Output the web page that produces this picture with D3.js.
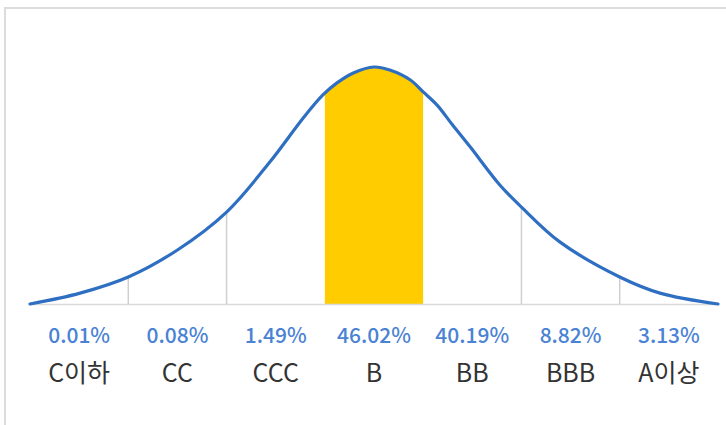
<!DOCTYPE html>
<html>
<head>
<meta charset="utf-8">
<script src="https://cdn.jsdelivr.net/npm/d3@7"></script>
<style>
  body { margin: 0; background: #fff; }
  svg { display: block; }
</style>
</head>
<body>
<div id="chart"></div>
<script>
// grades and their share
var grades = ["C이하", "CC", "CCC", "B", "BB", "BBB", "A이상"];
var shares = ["0.01%", "0.08%", "1.49%", "46.02%", "40.19%", "8.82%", "3.13%"];
var highlight = "B";

// curve outline (pos in grade units, height relative to peak)
var curvePos = [0, 0.51, 1.0, 1.5, 2.0, 2.44, 2.78, 2.98, 3.12, 3.29, 3.5, 3.66, 3.87, 4.0, 4.14, 4.30, 4.48, 4.78, 5.0, 5.39, 6.0, 6.41, 7.0];
var curveVal = [0, 0.046, 0.114, 0.228, 0.388, 0.599, 0.785, 0.882, 0.932, 0.975, 1, 0.987, 0.945, 0.895, 0.840, 0.755, 0.662, 0.502, 0.409, 0.262, 0.114, 0.046, 0];

var W = 726, H = 425;
var margin = {left: 30, right: 8, top: 67, baseline: 304};

var svg = d3.select("#chart").append("svg")
    .attr("width", W)
    .attr("height", H);

// frame
svg.append("path")
    .attr("d", "M5,425 V8 H726")
    .attr("fill", "none")
    .attr("stroke", "#dcdcdc")
    .attr("stroke-width", 2);

var x = d3.scaleLinear().domain([0, grades.length]).range([margin.left, W - margin.right]);
var y = d3.scaleLinear().domain([0, 1]).range([margin.baseline, margin.top]);

var pts = curvePos.map((p, i) => [p, curveVal[i]]);
var curve = d3.curveCatmullRom.alpha(0.5);

var line = d3.line()
    .x(d => x(d[0]))
    .y(d => y(d[1]))
    .curve(curve);
var area = d3.area()
    .x(d => x(d[0]))
    .y0(y(0))
    .y1(d => y(d[1]))
    .curve(curve);

// highlighted band under the curve
var hi = grades.indexOf(highlight);
svg.append("clipPath").attr("id", "band")
  .append("rect")
    .attr("x", x(hi))
    .attr("y", 0)
    .attr("width", x(hi + 1) - x(hi))
    .attr("height", H);

svg.append("path")
    .datum(pts)
    .attr("d", area)
    .attr("fill", "#ffcc00")
    .attr("clip-path", "url(#band)");

// find curve height at a grade edge (search along a hidden path)
var hidden = svg.append("path").datum(pts).attr("d", line).attr("fill", "none");
function curveY(px) {
    var node = hidden.node(), len = node.getTotalLength(), lo = 0, hiL = len;
    for (var k = 0; k < 30; k++) {
        var mid = (lo + hiL) / 2;
        if (node.getPointAtLength(mid).x < px) lo = mid; else hiL = mid;
    }
    return node.getPointAtLength(lo).y;
}

// baseline
svg.append("line")
    .attr("x1", x(0)).attr("x2", x(grades.length))
    .attr("y1", y(0) + 0.5).attr("y2", y(0) + 0.5)
    .attr("stroke", "#d9d9d9")
    .attr("stroke-width", 1.5);

// dividers
var edges = d3.range(1, grades.length).filter(i => i != hi && i != hi + 1);
svg.append("g")
    .selectAll("line")
    .data(edges)
    .join("line")
    .attr("x1", d => x(d)).attr("x2", d => x(d))
    .attr("y1", y(0))
    .attr("y2", d => curveY(x(d)))
    .attr("stroke", "#cfcfcf")
    .attr("stroke-width", 1.5);

hidden.remove();

// curve
svg.append("path")
    .datum(pts)
    .attr("d", line)
    .attr("fill", "none")
    .attr("stroke", "#2f6fc2")
    .attr("stroke-width", 3.2)
    .attr("stroke-linecap", "round");

// labels
var lbl = svg.append("g").attr("text-anchor", "middle");
lbl.selectAll("text.share")
    .data(shares)
    .join("text")
    .attr("class", "share")
    .attr("x", (d, i) => x(i + 0.5))
    .attr("y", 343)
    .attr("fill", "#4a82d4")
    .style("font", "500 21px 'Noto Sans CJK KR', 'Noto Sans', sans-serif")
    .text(d => d);

lbl.selectAll("text.grade")
    .data(grades)
    .join("text")
    .attr("class", "grade")
    .attr("x", (d, i) => x(i + 0.5))
    .attr("y", 382)
    .attr("fill", "#333")
    .style("font", "400 25px 'Noto Sans CJK KR', 'Noto Sans', sans-serif")
    .text(d => d);
</script>
</body>
</html>
